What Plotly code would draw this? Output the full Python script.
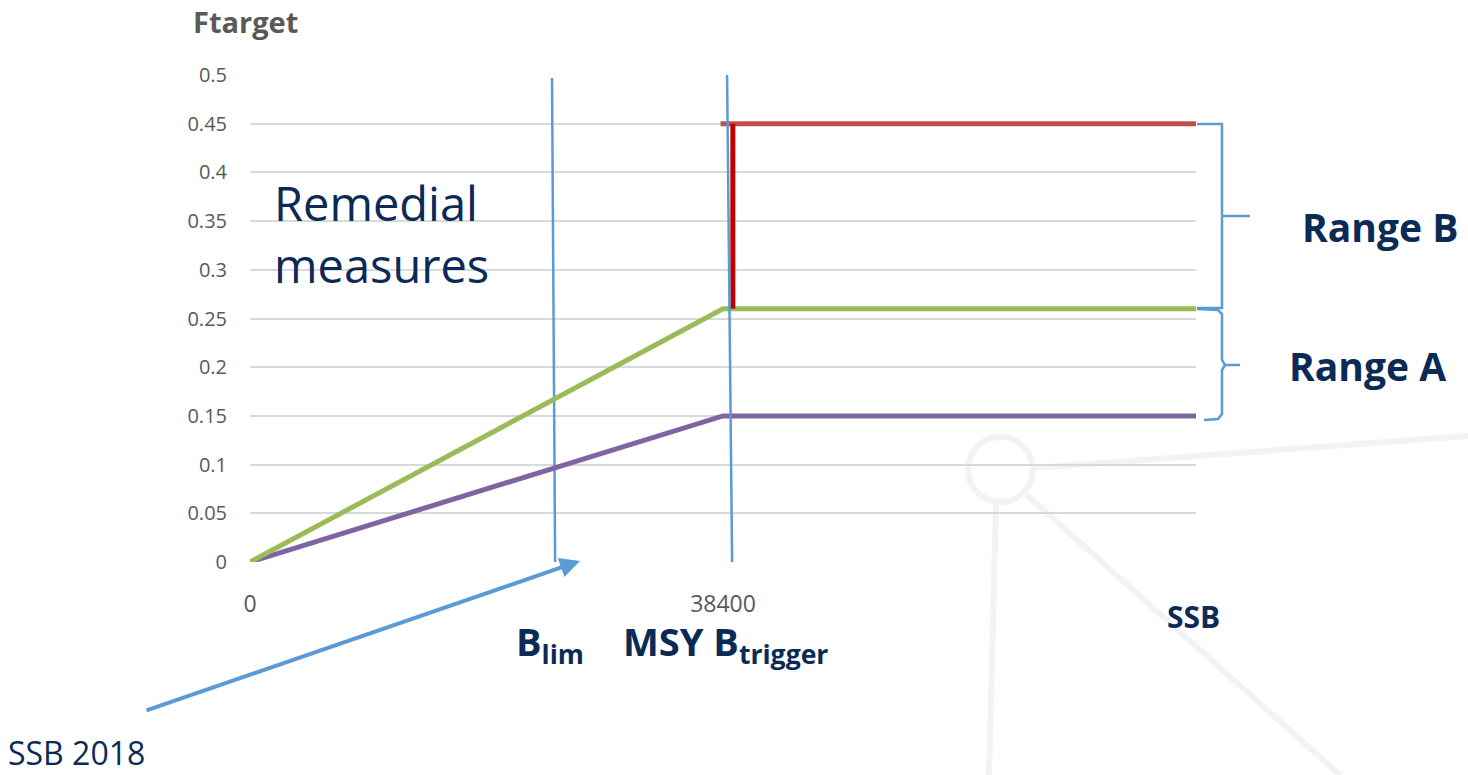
import plotly.graph_objects as go

W, H = 1468, 775

# data
ssb_purple = [0, 38400, 76800]
f_purple = [0, 0.15, 0.15]
ssb_green = [0, 38400, 76800]
f_green = [0, 0.26, 0.26]
ssb_red_h = [38200, 76800]
f_red_h = [0.45, 0.45]
ssb_red_v = [39200, 39200]
f_red_v = [0.45, 0.26]
ssb_blim = [24520, 24770]
f_blim = [0.497, 0.0]
ssb_msy = [38730, 39140]
f_msy = [0.5, 0.0]
x_tickvals = [0, 38400]
x_ticktext = ["0", "38400"]
y_tickvals = [0, 0.05, 0.1, 0.15, 0.2, 0.25, 0.3, 0.35, 0.4, 0.45, 0.5]
y_ticktext = ["0", "0.05", "0.1", "0.15", "0.2", "0.25", "0.3", "0.35", "0.4", "0.45", "0.5"]

NAVY = "#0B2A55"
BLUE = "#5B9BD5"
GRAY = "#595959"
FONT = "Open Sans"

def px(x):
    return x / W

def py(y):
    return 1 - y / H

fig = go.Figure()

def add_line(x, y, color, width):
    fig.add_trace(go.Scatter(x=x, y=y, mode="lines", line=dict(color=color, width=width),
                             hoverinfo="skip", showlegend=False, cliponaxis=False))

add_line(ssb_blim, f_blim, BLUE, 2.5)
add_line(ssb_purple, f_purple, "#8064A2", 5)
add_line(ssb_green, f_green, "#9BBB59", 5)
add_line(ssb_red_h, f_red_h, "#C0504D", 5)
add_line(ssb_red_v, f_red_v, "#C00000", 5)
add_line(ssb_msy, f_msy, BLUE, 2.5)

shapes = []
# watermark decoration
wm = "#F2F3F7"
shapes.append(dict(type="circle", xref="paper", yref="paper", x0=px(968), x1=px(1033),
                   y0=py(502), y1=py(437), line=dict(color=wm, width=6), layer="below"))
shapes.append(dict(type="line", xref="paper", yref="paper", x0=px(1034), y0=py(468),
                   x1=px(1468), y1=py(436), line=dict(color=wm, width=6), layer="below"))
shapes.append(dict(type="line", xref="paper", yref="paper", x0=px(996), y0=py(505),
                   x1=px(989), y1=py(775), line=dict(color=wm, width=6), layer="below"))
shapes.append(dict(type="line", xref="paper", yref="paper", x0=px(1027), y0=py(495),
                   x1=px(1340), y1=py(775), line=dict(color=wm, width=6), layer="below"))

# brackets
def path(points):
    d = "M " + " L ".join(f"{px(a)},{py(b)}" for a, b in points)
    return d

shapes.append(dict(type="path", xref="paper", yref="paper",
                   path=path([(1197, 124), (1222, 124), (1222, 308), (1197, 308)]),
                   line=dict(color=BLUE, width=2.5)))
shapes.append(dict(type="line", xref="paper", yref="paper", x0=px(1222), y0=py(216),
                   x1=px(1250), y1=py(216), line=dict(color=BLUE, width=2.5)))
shapes.append(dict(type="path", xref="paper", yref="paper",
                   path=path([(1197, 309), (1218, 310), (1222, 314), (1222, 360), (1225, 365),
                              (1222, 370), (1222, 414), (1218, 419), (1204, 420)]),
                   line=dict(color=BLUE, width=2.5)))
shapes.append(dict(type="line", xref="paper", yref="paper", x0=px(1224), y0=py(365),
                   x1=px(1240), y1=py(365), line=dict(color=BLUE, width=2.5)))

annotations = []
def text(x, y, t, size, color=NAVY, bold=False, xanchor="center"):
    annotations.append(dict(x=px(x), y=py(y), xref="paper", yref="paper", text=t,
                            showarrow=False, xanchor=xanchor, yanchor="middle",
                            font=dict(family=FONT, size=size, color=color,
                                      weight="bold" if bold else "normal")))

text(191, 21, "Ftarget", 29, GRAY, True, "left")
text(272, 203, "Remedial", 47, NAVY, False, "left")
text(272, 265, "measures", 47, NAVY, False, "left")
text(1380, 226, "Range B", 39, NAVY, True)
text(1367, 365, "Range A", 39, NAVY, True)
text(1193, 616, "SSB", 30, NAVY, True)
text(550, 643, "B<sub>lim</sub>", 38, NAVY, True)
text(725, 643, "MSY B<sub>trigger</sub>", 38, NAVY, True)
text(6, 752, "SSB 2018", 32, NAVY, False, "left")

# arrow
annotations.append(dict(x=px(580), y=py(561), ax=145 - 580, ay=711 - 561, xref="paper", yref="paper",
                        axref="pixel", ayref="pixel", showarrow=True, arrowhead=2,
                        arrowsize=1, arrowwidth=4, arrowcolor=BLUE, text=""))

fig.update_layout(
    width=W, height=H,
    margin=dict(l=0, r=0, t=0, b=0, autoexpand=False),
    paper_bgcolor="white", plot_bgcolor="white",
    shapes=shapes, annotations=annotations,
    xaxis=dict(domain=[px(250), px(1196)], range=[0, 76800], showgrid=False,
               zeroline=False, showline=False, tickvals=x_tickvals, ticktext=x_ticktext,
               tickfont=dict(family=FONT, size=23, color=GRAY), ticks="",
               ticklabelstandoff=26, automargin=False),
    yaxis=dict(domain=[py(562), py(75)], range=[0, 0.5], showgrid=True,
               gridcolor="#D9D9D9", gridwidth=2, zeroline=False, showline=False,
               tickvals=y_tickvals, ticktext=y_ticktext,
               tickfont=dict(family=FONT, size=20, color=GRAY), ticks="",
               ticklabelstandoff=22, automargin=False),
)

fig.write_html("out.html")
